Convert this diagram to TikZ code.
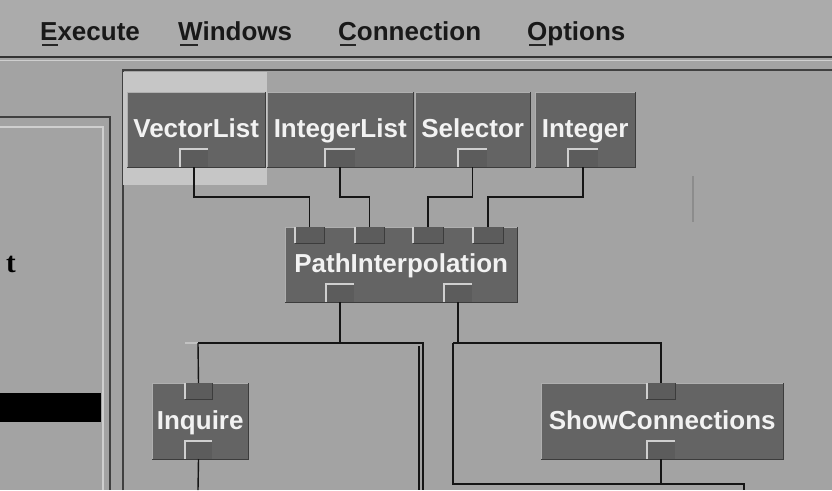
\documentclass[tikz,border=0pt]{standalone}
\usepackage{fontspec}
\setmainfont{Liberation Sans}
\newfontfamily\serifbold{Liberation Serif}
\usetikzlibrary{calc}

\definecolor{panelbg}{HTML}{A3A3A3}
\definecolor{menubg}{HTML}{ABABAB}
\definecolor{modfill}{HTML}{646464}
\definecolor{portfill}{HTML}{5C5C5C}
\definecolor{bevel}{HTML}{CFCFCF}
\definecolor{darkedge}{HTML}{3C3C3C}
\definecolor{selbg}{HTML}{C6C6C6}
\definecolor{wire}{HTML}{151515}

\tikzset{
  module/.style={rectangle, fill=modfill, text=white!95!black, inner sep=0pt,
    anchor=north west, text height=18pt, text depth=2pt,
    font=\fontsize{26}{30}\selectfont\bfseries},
  menuitem/.style={anchor=base west, inner sep=0pt, text=black!90,
    font=\fontsize{26}{30}\selectfont\bfseries},
  wireline/.style={draw=wire, line width=1.4pt},
  frameline/.style={draw=black!75, line width=1.2pt},
  lightline/.style={draw=bevel, line width=1.2pt},
}

% output port: tab sitting on the lower edge of a module
\newcommand\outport[4]{% name, x1, x2, bottom y
  \fill[portfill] (#2,#4-18) rectangle (#3,#4);
  \draw[draw=bevel, line width=1.2pt] (#2,#4) -- (#2,#4-18) -- (#3,#4-18);
  \coordinate (#1) at ({(#2+#3)/2},#4);
}
% input port: tab hanging from the upper edge of a module
\newcommand\inport[4]{% name, x1, x2, top y
  \fill[portfill] (#2,#4) rectangle (#3,#4+16);
  \draw[draw=bevel, line width=1.2pt] (#2,#4+16) -- (#2,#4);
  \draw[draw=darkedge, line width=1pt] (#2,#4+16) -- (#3,#4+16) -- (#3,#4);
  \coordinate (#1) at ({(#2+#3)/2},#4);
}
% bevelled outline of a module box
\newcommand\bevelbox[1]{%
  \draw[draw=bevel!70!modfill, line width=1pt] (#1.south west) -- (#1.north west) -- (#1.north east);
  \draw[draw=darkedge, line width=1pt] (#1.north east) -- (#1.south east) -- (#1.south west);
}

\begin{document}
\begin{tikzpicture}[x=1pt,y=-1pt]
\useasboundingbox (0,0) rectangle (832,490);
\fill[panelbg] (0,0) rectangle (832,490);

% menu bar
\fill[menubg] (0,0) rectangle (832,56);
\node[menuitem] (mexec) at (40,40) {Execute};
\node[menuitem] (mwin)  at (178,40) {Windows};
\node[menuitem] (mconn) at (338,40) {Connection};
\node[menuitem] (mopt)  at (527,40) {Options};
\draw[black!85, line width=1.6pt] (42,45) -- (58,45);
\draw[black!85, line width=1.6pt] (180,45) -- (198,45);
\draw[black!85, line width=1.6pt] (340,45) -- (356,45);
\draw[black!85, line width=1.6pt] (529,45) -- (546,45);
\draw[black!80, line width=1.6pt] (0,57) -- (832,57);
\draw[draw=bevel, line width=1pt] (0,60) -- (832,60);

% left side panel
\draw[frameline] (0,117) -- (110,117) -- (110,490);
\draw[lightline] (0,127) -- (103,127) -- (103,490);
\node[anchor=base west, inner sep=0pt, font=\serifbold\fontsize{29}{32}\selectfont\bfseries] (tlabel) at (6,272) {t};
\fill[black] (0,393) rectangle (101,422);

% canvas frame
\draw[frameline] (123,490) -- (123,70) -- (832,70);
\draw[black!45, line width=1.4pt] (693,176) -- (693,222);

% selection highlight
\fill[selbg] (123,72) rectangle (267,185);

% top row of modules
\node[module, minimum width=138pt, minimum height=75pt] (vl) at (127,92) {VectorList};
\node[module, minimum width=146pt, minimum height=75pt] (il) at (267,92) {IntegerList};
\node[module, minimum width=115pt, minimum height=75pt] (sel) at (415,92) {Selector};
\node[module, minimum width=100pt, minimum height=75pt] (int) at (535,92) {Integer};
\bevelbox{vl}\bevelbox{il}\bevelbox{sel}\bevelbox{int}
\outport{vlo}{180}{208}{167}
\outport{ilo}{325}{355}{167}
\outport{selo}{458}{487}{167}
\outport{into}{568}{598}{167}

% interpolation module
\node[module, minimum width=232pt, minimum height=75pt] (pi) at (285,227) {PathInterpolation};
\bevelbox{pi}
\inport{pii1}{295}{324}{227}
\inport{pii2}{355}{384}{227}
\inport{pii3}{413}{443}{227}
\inport{pii4}{473}{503}{227}
\outport{pio1}{326}{354}{302}
\outport{pio2}{444}{472}{302}

% lower modules
\node[module, minimum width=96pt, minimum height=76pt] (inq) at (152,383) {Inquire};
\node[module, minimum width=242pt, minimum height=76pt] (sc) at (541,383) {ShowConnections};
\bevelbox{inq}\bevelbox{sc}
\inport{inqi}{185}{212}{383}
\outport{inqo}{185}{212}{459}
\inport{sci}{647}{675}{383}
\outport{sco}{647}{675}{459}

% wiring to the interpolation inputs
\draw[wireline] (vlo) -- ++(0,30) -| (pii1);
\draw[wireline] (ilo) -- ++(0,30) -| (pii2);
\draw[wireline] (selo) -- ++(0,30) -| (pii3);
\draw[wireline] (into) -- ++(0,30) -| (pii4);

% wiring below the interpolation module
\coordinate (lsplit) at (198,343);
\coordinate (lrun) at (423,343);
\coordinate (lrunend) at (423,490);
\coordinate (lrun2) at (419,346);
\coordinate (lrun2end) at (419,490);
\coordinate (inqend) at (198,490);
\draw[draw=bevel!70!panelbg, line width=1.4pt] (185,343) -- (lsplit);
\draw[wireline] (pio1) -- ++(0,41) coordinate (ljoin);
\draw[wireline] (lsplit) -- (lrun) -- (lrunend);
\draw[wireline] (lrun2) -- (lrun2end);
\draw[wireline] (lsplit) -- (inqi);
\draw[wireline] (inqo) -- (inqend);

\coordinate (rsplit) at (453,343);
\coordinate (rbottom) at (453,484);
\coordinate (rend) at (744,484);
\coordinate (rendlow) at (744,490);
\draw[wireline] (pio2) -- ++(0,41);
\draw[wireline] (rsplit) -| (sci);
\draw[wireline] (rsplit) -- (rbottom) -- (rend) -- (rendlow);
\draw[wireline] (sco) -- (sco |- rbottom);
\end{tikzpicture}
\end{document}
